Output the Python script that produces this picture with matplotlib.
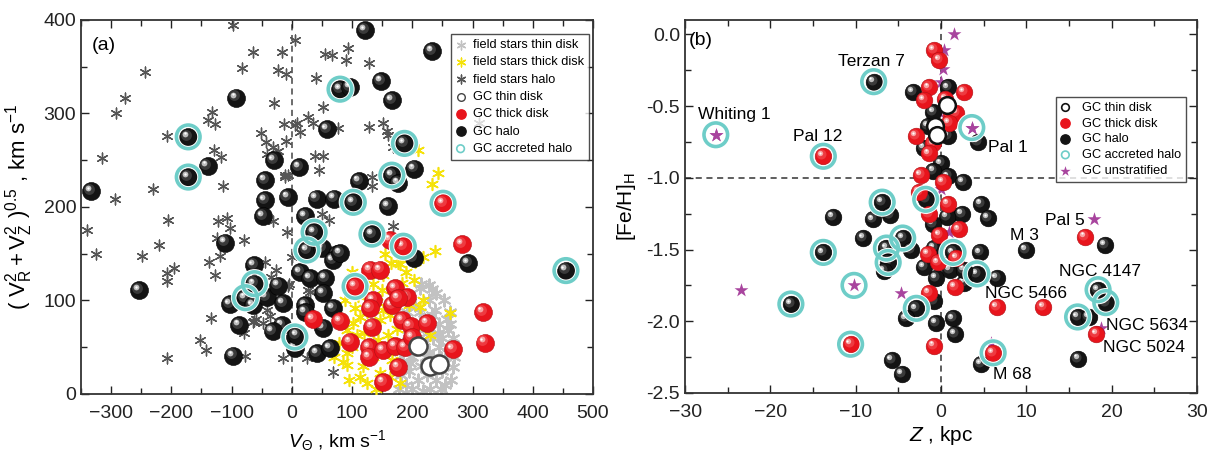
import numpy as np
import matplotlib
matplotlib.use("Agg")
import matplotlib.pyplot as plt
from matplotlib.transforms import offset_copy
from matplotlib.ticker import MultipleLocator, FormatStrFormatter

plt.rcParams['font.family'] = ['Liberation Sans', 'DejaVu Sans']
plt.rcParams['mathtext.fontset'] = 'custom'
plt.rcParams['mathtext.rm'] = 'Liberation Sans'
plt.rcParams['mathtext.it'] = 'Liberation Sans:italic'
plt.rcParams['mathtext.default'] = 'regular'

# ---------------- panel (a): V_theta vs sqrt(V_R^2+V_Z^2) ----------------
halo_gc_v = [-333, -253, -172, -172, -140, -92, -111, -30, -45, -45, -48, -7, -63, -62, -77, -65,
             -103, -87, -97, -42, -23, -15, -17, -32, 5, 5, 12, 58, 41, 70, 102, 22, 37, 25, 50,
             75, 13, 30, 55, 52, 22, 22, 52, 8, 42, 63, 68, 68, 80, 122, 233, 80, 97, 148, 166,
             187, 203, 166, 177, 111, 160, 133, 202, 293, 455]
halo_gc_s = [217, 111, 275, 232, 244, 317, 162, 250, 229, 207, 190, 211, 138, 118, 103, 95,
             96, 74, 41, 104, 116, 97, 74, 67, 61, 49, 243, 283, 209, 209, 205, 190, 173, 154, 156,
             150, 130, 124, 124, 108, 95, 88, 71, 63, 44, 49, 92, 143, 151, 389, 367, 326, 328, 335, 314,
             268, 241, 234, 226, 228, 201, 171, 145, 140, 132]

thick_gc_v = [251, 185, 163, 283, 105, 317, 320, 267, 35, 80, 97, 130, 147, 172, 191, 166, 177,
              135, 130, 133, 183, 197, 225, 128, 128, 152, 172, 188, 200, 177, 152]
thick_gc_s = [204, 158, 165, 160, 115, 88, 55, 48, 80, 78, 56, 133, 133, 113, 104, 95, 103,
              100, 92, 72, 79, 73, 76, 50, 40, 47, 51, 50, 61, 29, 13]

thin_gc_v = [210, 230, 245]
thin_gc_s = [51, 30, 32]

accreted_v = [-172, -172, -62, -77, 5, 80, 187, 166, 102, 37, 25, 133, 251, 185, 105, 455]
accreted_s = [275, 232, 118, 103, 61, 326, 268, 234, 205, 173, 154, 171, 204, 158, 115, 132]

field_halo_v = [-98, 5, -65, -17, -243, -83, -23, -10, -277, -292, -30, -133, -140, -127, -13, 5,
                -208, -52, -43, -32, -10, -130, -118, -315, -42, -23, -12, -230, -115, -293, -205,
                -122, -107, -102, -340, -32, -8, -220, -125, -80, -325, -248, -120, -137, -45, -195,
                -207, -207, -128, -27, -35, -5, -42, -37, -135, -63, -48, -80, -153, -142, -207,
                -77, -15, 55, 67, 93, 90, 128, 40, 52, 27, 35, 8, 13, 77, 128, 152, 158, 160, 168,
                38, 52, 45, -12, -7, 133, 133, 310, 168, 50, 62, 68, 30, 0, -7, 25, 27, -65, -60]
field_halo_s = [395, 379, 366, 366, 344, 349, 347, 342, 317, 300, 311, 302, 293, 289, 289, 288,
                276, 279, 269, 264, 271, 261, 253, 252, 257, 260, 232, 219, 222, 209, 186,
                185, 188, 178, 175, 185, 173, 159, 167, 165, 150, 148, 148, 141, 141, 135,
                129, 121, 127, 133, 125, 118, 90, 83, 81, 78, 76, 65, 58, 47, 38,
                41, 39, 364, 363, 370, 357, 354, 338, 307, 296, 290, 290, 280, 284, 286, 290, 281, 277, 264,
                255, 255, 240, 234, 234, 232, 222, 290, 180, 193, 186, 24, 109, 147, 115, 39, 111, 77, 80]

field_thick_v = [152, 183, 202, 150, 142, 152, 163, 147, 113, 102, 92, 108, 92, 92, 113, 125, 147,
                 167, 163, 180, 143, 160, 213, 217, 263, 85, 160, 105, 208, 238, 177, 230, 210, 242,
                 232, 218, 180, 205, 120, 135, 165, 190, 100, 118, 135, 170, 120, 140, 95, 195, 175,
                 125, 110, 155, 100, 70, 78, 88]
field_thick_s = [127, 119, 122, 111, 98, 90, 84, 79, 82, 76, 68, 63, 44, 31, 18, 12, 22,
                 36, 18, 12, 58, 63, 93, 100, 87, 34, 45, 92, 72, 153, 140, 63, 261, 236,
                 225, 147, 139, 141, 110, 118, 140, 130, 50, 30, 40, 100, 65, 5, 15, 95, 70,
                 88, 105, 150, 130, 40, 55, 100]

field_thin_v = [205, 213, 227, 228, 240, 263, 260, 268, 250, 245, 232, 220, 210, 200, 195, 190, 188,
                185, 200, 210, 215, 220, 225, 230, 235, 240, 245, 250, 255, 255, 260, 265, 242, 235,
                225, 215, 205, 198, 192, 182, 180, 178, 222, 232, 248, 238, 252, 218, 207, 193, 258,
                270, 268, 215, 232, 262, 212, 228, 196, 247]
field_thin_s = [95, 113, 100, 117, 108, 88, 68, 29, 60, 75, 85, 80, 70, 40, 25, 10, 55,
                35, 5, 15, 30, 50, 20, 5, 40, 15, 50, 25, 10, 40, 50, 15, 65, 60,
                65, 55, 60, 75, 88, 20, 45, 5, 40, 30, 5, 90, 100, 3, 48, 63, 80,
                40, 60, 118, 112, 75, 88, 45, 33, 38]

# ---------------- panel (b): Z vs [Fe/H] ----------------
thin_b_z = [0.7, -0.7, -0.5]
thin_b_fe = [-0.49, -0.64, -0.70]

thick_b_z = [-13.8, -10.6, -0.8, -0.2, -1.4, -2.0, 2.7, 0.5, 1.2, 1.8, 0.9, -2.9, -0.9, -1.4, -2.4,
             0.2, -2.6, -1.4, 0.8, 2.1, -0.2, -1.5, -0.35, 1.8, 1.6, -1.4, -0.8, 6.1, 6.5, 12.0,
             16.9, 18.2]
thick_b_fe = [-0.85, -2.16, -0.11, -0.18, -0.37, -0.46, -0.40, -0.45, -0.56, -0.55, -0.62, -0.71,
              -0.76, -0.83, -0.98, -1.03, -1.10, -1.25, -1.18, -1.36, -1.40, -1.53, -1.59, -1.56,
              -1.76, -1.80, -2.17, -2.22, -1.90, -1.90, -1.41, -2.09]

halo_b_z = [-7.9, -3.3, -6.9, -12.7, -8.0, -6.0, -13.8, -9.1, -6.4, -4.5, -6.2, -6.7, -3.5, -17.6,
            -5.8, -4.6, -2.9, -4.1, 0.8, -0.9, -1.5, 0.8, 4.3, -2.0, 0.0, -0.9, 0.8, 2.6, -1.8,
            1.0, 2.4, 4.7, 5.5, 19.2, 9.9, 4.6, 18.4, 19.3, 16.0, 17.3, 16.1, 4.7, 6.5, 4.2, 1.4,
            1.6, -0.6, -0.6, 2.7, -2.0, 1.4, -0.8, 1.0, 2.7, -0.8, 0.7, -1.0]
halo_b_fe = [-0.33, -0.40, -1.17, -1.27, -1.29, -1.26, -1.52, -1.42, -1.49, -1.42, -1.59, -1.65,
             -1.50, -1.88, -2.27, -2.37, -1.91, -1.98, -0.37, -0.54, -0.64, -0.71, -0.75, -0.79,
             -0.90, -0.95, -0.99, -1.03, -1.15, -1.25, -1.25, -1.18, -1.28, -1.47, -1.50, -1.52,
             -1.78, -1.87, -1.97, -1.97, -2.26, -2.30, -1.70, -1.67, -1.98, -2.09, -2.01, -1.70,
             -1.73, -1.62, -1.52, -1.49, -1.64, -1.64, -1.86, -1.27, -1.32]

accreted_b_z = [-26.4, -7.9, -13.8, 3.6, -6.9, -13.8, -6.4, -4.5, -6.2, -10.2, -17.6, -10.6,
                -2.9, -1.8, 1.4, 4.2, 18.4, 19.3, 16.0, 6.1]
accreted_b_fe = [-0.70, -0.33, -0.85, -0.65, -1.17, -1.52, -1.49, -1.42, -1.59, -1.75, -1.88, -2.16,
                 -1.91, -1.15, -1.52, -1.67, -1.78, -1.87, -1.97, -2.22]

unstrat_z = [-26.4, 1.5, 0.4, 0.2, 0.0, -0.2, 3.6, 17.9, -10.2, -23.5, -4.7, 18.8, 5.8, 0.0, 0.9]
unstrat_fe = [-0.70, 0.0, -0.11, -0.24, -0.33, -0.54, -0.65, -1.29, -1.75, -1.78, -1.80, -2.05,
              -2.15, -1.08, -1.38]

gc_names = ['Whiting 1', 'Terzan 7', 'Pal 12', 'Pal 1', 'Pal 5', 'M 3', 'NGC 4147',
            'NGC 5466', 'NGC 5634', 'NGC 5024', 'M 68']
name_z = [-24.2, -8.2, -14.5, 7.8, 14.5, 9.8, 18.6, 10.0, 24.1, 23.8, 8.4]
name_fe = [-0.56, -0.19, -0.71, -0.79, -1.30, -1.40, -1.65, -1.81, -2.03, -2.18, -2.37]

CYAN = '#6ecdc8'
RED = '#e8141c'
BLACK = '#141414'
MAG = '#a8449e'
YEL = '#f5e20a'
LGRAY = '#c2c2c2'
DGRAY = '#555555'
AST = (6, 2, 0)

fig = plt.figure(figsize=(12.11, 4.54), dpi=100)
ax1 = fig.add_axes([0.0669, 0.1322, 0.4228, 0.8238])
ax2 = fig.add_axes([0.5657, 0.1344, 0.4228, 0.8216])


def balls(ax, x, y, kind, size, z0):
    if kind == 'red':
        cols = [RED, '#ee3a40', '#f7a5a5', 'white']
        edge = '#b01015'
    else:
        cols = [BLACK, '#3a3a3a', '#bdbdbd', 'white']
        edge = '#000000'
    for i, (xi, yi) in enumerate(zip(x, y)):
        z = z0 + i * 0.01
        ax.scatter([xi], [yi], s=size ** 2, c=cols[0], edgecolors=edge, linewidths=0.4, zorder=z)
        for frac, col, off, dz in [(0.6, cols[1], 0.12, 0.002), (0.32, cols[2], 0.17, 0.004),
                                   (0.13, cols[3], 0.19, 0.006)]:
            tr = offset_copy(ax.transData, fig=fig, x=-size * off, y=size * off, units='points')
            ax.scatter([xi], [yi], s=(size * frac) ** 2, c=col, linewidths=0, transform=tr, zorder=z + dz)


def rings(ax, x, y, size):
    ax.scatter(x, y, s=size ** 2, facecolors='none', edgecolors='white', linewidths=4.0, zorder=50)
    ax.scatter(x, y, s=size ** 2, facecolors='none', edgecolors=CYAN, linewidths=2.6, zorder=51)


def style(ax):
    ax.tick_params(which='both', direction='in', top=True, right=True, labelsize=14,
                   width=1.0, colors='#222222')
    ax.tick_params(axis='x', which='major', pad=8)
    ax.tick_params(which='major', length=6)
    ax.tick_params(which='minor', length=4)
    for sp in ax.spines.values():
        sp.set_linewidth(1.3)
        sp.set_color('#333333')


# panel a
ax1.scatter(field_thin_v, field_thin_s, marker=AST, s=75, c=LGRAY, linewidths=1.5, zorder=2)
ax1.scatter(field_thick_v, field_thick_s, marker=AST, s=70, c=YEL, linewidths=1.2, zorder=3)
ax1.scatter(field_halo_v, field_halo_s, marker=AST, s=60, c=DGRAY, linewidths=1.0, zorder=4)
ax1.axvline(0, color='#444444', ls=(0, (4, 3)), lw=1.1, zorder=1)
balls(ax1, halo_gc_v, halo_gc_s, 'black', 13, 10)
balls(ax1, thick_gc_v, thick_gc_s, 'red', 13, 20)
ax1.scatter(thin_gc_v, thin_gc_s, s=13 ** 2, facecolors='white', edgecolors='#444444',
            linewidths=1.8, zorder=30)
rings(ax1, accreted_v, accreted_s, 17)
ax1.set_xlim(-350, 500)
ax1.set_ylim(0, 400)
ax1.xaxis.set_major_locator(MultipleLocator(100))
ax1.xaxis.set_minor_locator(MultipleLocator(50))
ax1.yaxis.set_major_locator(MultipleLocator(100))
ax1.yaxis.set_minor_locator(MultipleLocator(50))
style(ax1)
ax1.set_xlabel(r'$\mathit{V}_{\Theta}$ , km s$^{-1}$', fontsize=14, labelpad=4)
ax1.set_ylabel(r'$(\ V_R^2 + V_Z^2\ )^{0.5}$ , km s$^{-1}$', fontsize=16, labelpad=6)
ax1.text(-312, 373, '(a)', fontsize=14, ha='center', va='center')

# legend handles built as empty scatters
h1 = [ax1.scatter([], [], marker=AST, s=40, c=LGRAY, linewidths=1.0),
      ax1.scatter([], [], marker=AST, s=40, c=YEL, linewidths=1.0),
      ax1.scatter([], [], marker=AST, s=40, c=DGRAY, linewidths=1.0),
      ax1.scatter([], [], marker='o', s=30, facecolors='white', edgecolors='#444444', linewidths=1.0),
      ax1.scatter([], [], marker='o', s=45, c=RED),
      ax1.scatter([], [], marker='o', s=45, c=BLACK),
      ax1.scatter([], [], marker='o', s=30, facecolors='none', edgecolors=CYAN, linewidths=1.2)]
l1 = ['field stars thin disk', 'field stars thick disk', 'field stars halo', 'GC thin disk',
      'GC thick disk', 'GC halo', 'GC accreted halo']
leg1 = ax1.legend(h1, l1, loc='upper right', bbox_to_anchor=(0.997, 0.97), fontsize=9.2,
                  frameon=True, fancybox=False, edgecolor='#222222', handlelength=0.7,
                  handletextpad=0.6, labelspacing=0.42, borderpad=0.4, borderaxespad=0.2,
                  scatterpoints=1)
leg1.get_frame().set_linewidth(1.0)
leg1.set_zorder(100)

# panel b
ax2.axvline(0, color='#333333', ls=(0, (4, 3)), lw=1.1, zorder=1)
ax2.axhline(-1.0, color='#333333', ls=(0, (4, 3)), lw=1.1, zorder=1)
ax2.scatter(unstrat_z, unstrat_fe, marker='*', s=110, c=MAG, linewidths=0, zorder=5)
balls(ax2, halo_b_z, halo_b_fe, 'black', 12, 10)
balls(ax2, thick_b_z, thick_b_fe, 'red', 12, 20)
ax2.scatter(thin_b_z, thin_b_fe, s=12 ** 2, facecolors='white', edgecolors='#111111',
            linewidths=1.8, zorder=30)
rings(ax2, accreted_b_z, accreted_b_fe, 17)
ax2.scatter(unstrat_z[:1], unstrat_fe[:1], marker='*', s=110, c=MAG, linewidths=0, zorder=60)
ax2.scatter(unstrat_z[6:7], unstrat_fe[6:7], marker='*', s=110, c=MAG, linewidths=0, zorder=60)
for name, zz, ff in zip(gc_names, name_z, name_fe):
    ax2.text(zz, ff, name, fontsize=12.5, ha='center', va='center', zorder=70)
ax2.set_xlim(-30, 30)
ax2.set_ylim(-2.5, 0.1)
ax2.xaxis.set_major_locator(MultipleLocator(10))
ax2.xaxis.set_minor_locator(MultipleLocator(5))
ax2.yaxis.set_major_locator(MultipleLocator(0.5))
ax2.yaxis.set_minor_locator(MultipleLocator(0.25))
ax2.yaxis.set_major_formatter(FormatStrFormatter('%.1f'))
style(ax2)
ax2.set_xlabel(r'$\mathit{Z}$ , kpc', fontsize=15, labelpad=2)
ax2.set_ylabel(r'[Fe/H]$_{H}$', fontsize=15, labelpad=6)
ax2.text(-28.2, -0.04, '(b)', fontsize=14, ha='center', va='center')

h2 = [ax2.scatter([], [], marker='o', s=30, facecolors='white', edgecolors='#111111', linewidths=1.2),
      ax2.scatter([], [], marker='o', s=45, c=RED),
      ax2.scatter([], [], marker='o', s=45, c=BLACK),
      ax2.scatter([], [], marker='o', s=30, facecolors='none', edgecolors=CYAN, linewidths=1.2),
      ax2.scatter([], [], marker='*', s=60, c=MAG, linewidths=0)]
l2 = ['GC thin disk', 'GC thick disk', 'GC halo', 'GC accreted halo', 'GC unstratified']
leg2 = ax2.legend(h2, l2, loc='upper right', bbox_to_anchor=(0.99, 0.81), fontsize=9.2,
                  frameon=True, fancybox=False, edgecolor='#222222', handlelength=0.8,
                  handletextpad=0.9, labelspacing=0.3, borderpad=0.35, scatterpoints=1)
leg2.get_frame().set_linewidth(1.0)
leg2.set_zorder(100)

fig.savefig('out.png', dpi=100)
